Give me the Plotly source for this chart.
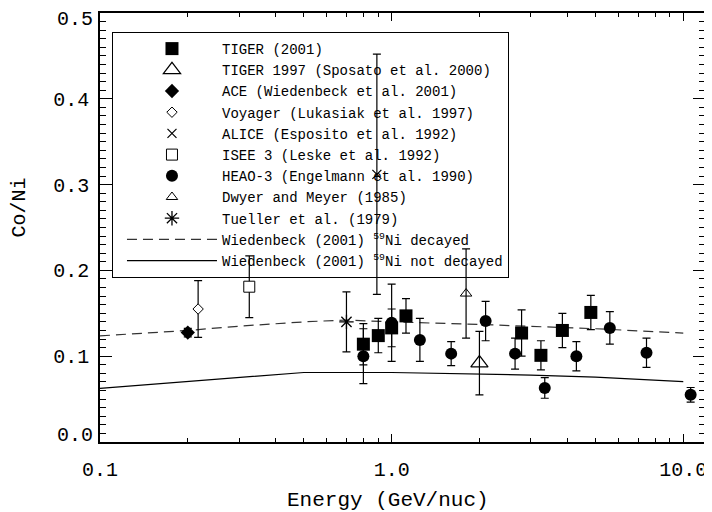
import plotly.graph_objects as go

FONT = "Liberation Mono"

# ---------------- data ----------------
tiger_e = [0.80, 0.90, 1.00, 1.12, 2.79, 3.25, 3.85, 4.82]
tiger_r = [0.114, 0.124, 0.133, 0.147, 0.127, 0.101, 0.130, 0.151]
tiger_err = [0.024, 0.020, 0.022, 0.020, 0.027, 0.017, 0.020, 0.020]

tiger97_e = [2.0]
tiger97_r = [0.092]
tiger97_err = [0.037]

ace_e = [0.20]
ace_r = [0.1275]
ace_err = [0.005]

voyager_e = [0.217]
voyager_r = [0.155]
voyager_err = [0.033]

alice_e = [0.89]
alice_r = [0.312]
alice_err = [0.140]

isee_e = [0.325]
isee_r = [0.181]
isee_err = [0.036]

heao_e = [0.80, 1.00, 1.25, 1.60, 2.10, 2.65, 3.35, 4.30, 5.60, 7.48, 10.6]
heao_r = [0.100, 0.139, 0.119, 0.103, 0.141, 0.103, 0.063, 0.100, 0.133, 0.104, 0.055]
heao_err = [0.032, 0.045, 0.025, 0.014, 0.023, 0.018, 0.012, 0.017, 0.019, 0.017, 0.0085]

dwyer_e = [1.80]
dwyer_r = [0.173]
dwyer_err = [0.052]

tueller_e = [0.70]
tueller_r = [0.140]
tueller_err = [0.035]

decayed_e = [0.1, 0.2, 0.3, 0.5, 0.7, 1.0, 2.0, 3.0, 5.0, 10.0]
decayed_r = [0.1237, 0.130, 0.135, 0.140, 0.1422, 0.140, 0.137, 0.135, 0.132, 0.127]

notdecayed_e = [0.1, 0.5, 1.0, 2.0, 3.0, 5.0, 10.0]
notdecayed_r = [0.0626, 0.081, 0.081, 0.0795, 0.078, 0.0755, 0.0704]

x_tickvals = [0.1, 1.0, 10.0]
x_ticktext = ["0.1", "1.0", "10.0"]
x_minor = [0.2, 0.3, 0.4, 0.5, 0.6, 0.7, 0.8, 0.9, 2, 3, 4, 5, 6, 7, 8, 9]
y_tickvals = [0.1, 0.2, 0.3, 0.4]
y_ticktext = ["0.1", "0.2", "0.3", "0.4"]
# end labels sit just inside the frame, as in the reference
y_end_vals = [0.0, 0.5]
y_end_text = ["0.0", "0.5"]
y_end_shift = [7, -6]

# ---------------- figure ----------------
fig = go.Figure()

fig.add_trace(go.Scatter(
    x=decayed_e, y=decayed_r, mode="lines",
    name="Wiedenbeck (2001) <sup>59</sup>Ni decayed",
    line=dict(color="#333333", width=1.2, dash="10px,6px"), legendrank=10))
fig.add_trace(go.Scatter(
    x=notdecayed_e, y=notdecayed_r, mode="lines",
    name="Wiedenbeck (2001) <sup>59</sup>Ni not decayed",
    line=dict(color="black", width=1.2), legendrank=11))


def add_points(x, y, err, name, symbol, size, rank, color="black",
               lcolor="black", lw=0):
    fig.add_trace(go.Scatter(
        x=x, y=y, mode="markers", name=name,
        marker=dict(symbol=symbol, size=size, color=color,
                    line=dict(color=lcolor, width=lw)),
        error_y=dict(type="data", array=err, visible=True, color="black",
                     thickness=1.2, width=4),
        legendrank=rank))


add_points(tiger_e, tiger_r, tiger_err, "TIGER (2001)", "square", 13, 1)
add_points(tiger97_e, tiger97_r, tiger97_err, "TIGER 1997 (Sposato et al. 2000)",
           "triangle-up-open", 15, 2, lw=1.2)
add_points(ace_e, ace_r, ace_err, "ACE (Wiedenbeck et al. 2001)", "diamond", 11, 3)
add_points(voyager_e, voyager_r, voyager_err, "Voyager (Lukasiak et al. 1997)",
           "diamond", 8, 4, color="white", lw=1)
add_points(alice_e, alice_r, alice_err, "ALICE (Esposito et al. 1992)",
           "x-thin-open", 9, 5, lw=1.2)
add_points(isee_e, isee_r, isee_err, "ISEE 3 (Leske et al. 1992)",
           "square", 11, 6, color="white", lw=1)
add_points(heao_e, heao_r, heao_err, "HEAO-3 (Engelmann et al. 1990)",
           "circle", 12, 7)
add_points(dwyer_e, dwyer_r, dwyer_err, "Dwyer and Meyer (1985)",
           "triangle-up-open", 10, 8, lw=1)
add_points(tueller_e, tueller_r, tueller_err, "Tueller et al. (1979)",
           "asterisk-open", 12, 9, lw=1.3)

annotations = [
    dict(text="Energy (GeV/nuc)", xref="paper", yref="paper",
         x=0.476, y=-0.137, xanchor="center", yanchor="middle",
         showarrow=False, font=dict(family=FONT, size=21, color="black")),
    dict(text="Co/Ni", xref="paper", yref="paper",
         x=-0.133, y=0.5455, xanchor="center", yanchor="middle",
         textangle=-90, showarrow=False,
         font=dict(family=FONT, size=20, color="black")),
]
for v, t, s in zip(y_end_vals, y_end_text, y_end_shift):
    annotations.append(dict(text=t, xref="paper", yref="y", x=0, y=v,
                            xanchor="right", yanchor="middle", xshift=-5,
                            yshift=s, showarrow=False,
                            font=dict(family=FONT, size=20, color="black")))

# The page places the figure 8 px in from the top-left corner of the window,
# so the figure is 704x504 to fill the 712x512 window exactly.
fig.update_layout(
    width=704, height=504,
    margin=dict(l=92, r=7, t=5, b=70, autoexpand=False),
    paper_bgcolor="white", plot_bgcolor="white",
    font=dict(family=FONT, size=20, color="black"),
    showlegend=True,
    legend=dict(x=0.0198, y=0.9557, xanchor="left", yanchor="top",
                bgcolor="rgba(0,0,0,0)", bordercolor="black", borderwidth=1,
                font=dict(family=FONT, size=14, color="black"),
                itemwidth=90, indentation=9, traceorder="normal"),
    xaxis=dict(type="log", range=[-1, 1.0745], automargin=False,
               tickvals=x_tickvals, ticktext=x_ticktext,
               ticks="inside", ticklen=8, tickwidth=1.2, tickcolor="black",
               showline=True, linecolor="black", linewidth=1.5, mirror="ticks",
               showgrid=False, zeroline=False, ticklabelstandoff=8,
               ticklabeloverflow="allow",
               minor=dict(tickvals=x_minor, ticks="inside", ticklen=4,
                          tickwidth=1, tickcolor="black", showgrid=False)),
    yaxis=dict(range=[0, 0.5], automargin=False,
               tickvals=y_tickvals, ticktext=y_ticktext,
               ticks="inside", ticklen=12, tickwidth=1.2, tickcolor="black",
               showline=True, linecolor="black", linewidth=1.5, mirror="ticks",
               showgrid=False, zeroline=False, ticklabelstandoff=5,
               ticklabeloverflow="allow",
               minor=dict(dtick=0.01, ticks="inside", ticklen=6,
                          tickwidth=1, tickcolor="black", showgrid=False)),
    annotations=annotations,
)

fig.write_html("out.html")
